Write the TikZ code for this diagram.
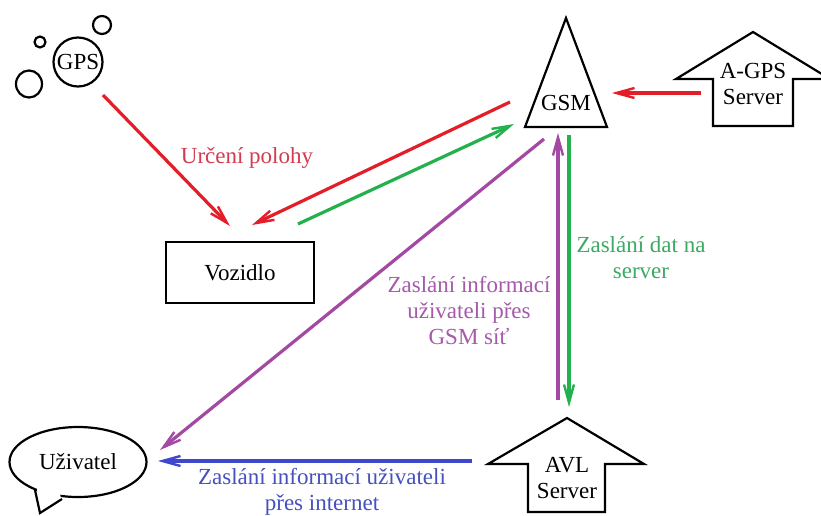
\documentclass[tikz,border=0pt]{standalone}
\usepackage{fontspec}
\setmainfont{Liberation Serif}
\usetikzlibrary{arrows.meta,shapes.geometric}

\definecolor{lred}{RGB}{228,30,40}
\definecolor{tred}{RGB}{210,60,80}
\definecolor{lgreen}{RGB}{34,177,76}
\definecolor{tgreen}{RGB}{60,170,100}
\definecolor{lpurple}{RGB}{163,73,164}
\definecolor{tpurple}{RGB}{165,90,170}
\definecolor{lblue}{RGB}{63,72,204}
\definecolor{tblue}{RGB}{70,80,190}

\tikzset{
  shapeline/.style={draw=black, line width=2.2pt, line join=miter},
  label/.style={font=\fontsize{23}{26}\selectfont, align=center, inner sep=0pt},
  flow/.style={line width=3.2pt, -{Straight Barb[length=18pt,width=10pt,line width=2.4pt]}},
}

\begin{document}
\begin{tikzpicture}[x=1pt, y=-1pt]
\clip (0,0) rectangle (821,515);
\fill[white] (0,0) rectangle (821,515);

% GPS satellite with its bubbles
\node[circle, shapeline, minimum size=49pt, inner sep=0pt, label] (gps) at (78,62) {GPS};
\draw[shapeline] (40,42) circle (5.5);
\draw[shapeline] (102,25) circle (9);
\draw[shapeline] (29,84) ellipse (13 and 13.5);

% vehicle
\node[draw, line width=2.2pt, minimum width=148pt, minimum height=61pt, label] (voz) at (240,272.5) {Vozidlo};

% GSM mast (triangle)
\draw[shapeline] (566,18) -- (607,127) -- (525,127) -- cycle;
\node[label] (gsm) at (566,103) {GSM};

% A-GPS server (up arrow)
\draw[shapeline] (753,32) -- (830,79) -- (793,79) -- (793,126) -- (713,126) -- (713,79) -- (676,79) -- cycle;
\node[label] (agps) at (753,84) {A-GPS\\Server};

% AVL server (up arrow)
\draw[shapeline] (567,418) -- (644,464) -- (605,464) -- (605,512) -- (528,512) -- (528,464) -- (488,464) -- cycle;
\node[label] (avl) at (567,478) {AVL\\Server};

% user speech bubble
\node[ellipse, shapeline, minimum width=137pt, minimum height=70pt, inner sep=0pt, label] (user) at (78,462) {Uživatel};
\fill[white] (37,489) -- (40,512) -- (61,499) -- (60,493) -- (38,485) -- cycle;
\draw[shapeline] (35,490) -- (40,513) -- (62,499);

% connector end points
\coordinate (r1a) at (103,95);  \coordinate (r1b) at (230,226);
\coordinate (r2a) at (510,102); \coordinate (r2b) at (252,225);
\coordinate (g1a) at (298,224); \coordinate (g1b) at (514,124);
\coordinate (r3a) at (701,93);  \coordinate (r3b) at (612,93);
\coordinate (p1a) at (544,139); \coordinate (p1b) at (160,450);
\coordinate (p2a) at (558,400); \coordinate (p2b) at (558,133);
\coordinate (g2a) at (569,135); \coordinate (g2b) at (569,407);
\coordinate (b1a) at (472,461); \coordinate (b1b) at (158,461);

% flows
\draw[flow, lred] (r1a) -- (r1b);
\draw[flow, lred] (r2a) -- (r2b);
\draw[flow, lgreen] (g1a) -- (g1b);
\draw[flow, lred] (r3a) -- (r3b);
\draw[flow, lpurple] (p1a) -- (p1b);
\draw[flow, lpurple] (p2a) -- (p2b);
\draw[flow, lgreen] (g2a) -- (g2b);
\draw[flow, lblue] (b1a) -- (b1b);

% flow labels
\node[label, text=tred] (lpos) at (247,158) {Určení polohy};
\node[label, text=tgreen] (ldat) at (641,258) {Zaslání dat na\\server};
\node[label, text=tpurple] (lgsm) at (469,311) {Zaslání informací\\uživateli přes\\GSM síť};
\node[label, text=tblue] (lnet) at (322,492) {Zaslání informací uživateli\\přes internet};
\end{tikzpicture}
\end{document}
